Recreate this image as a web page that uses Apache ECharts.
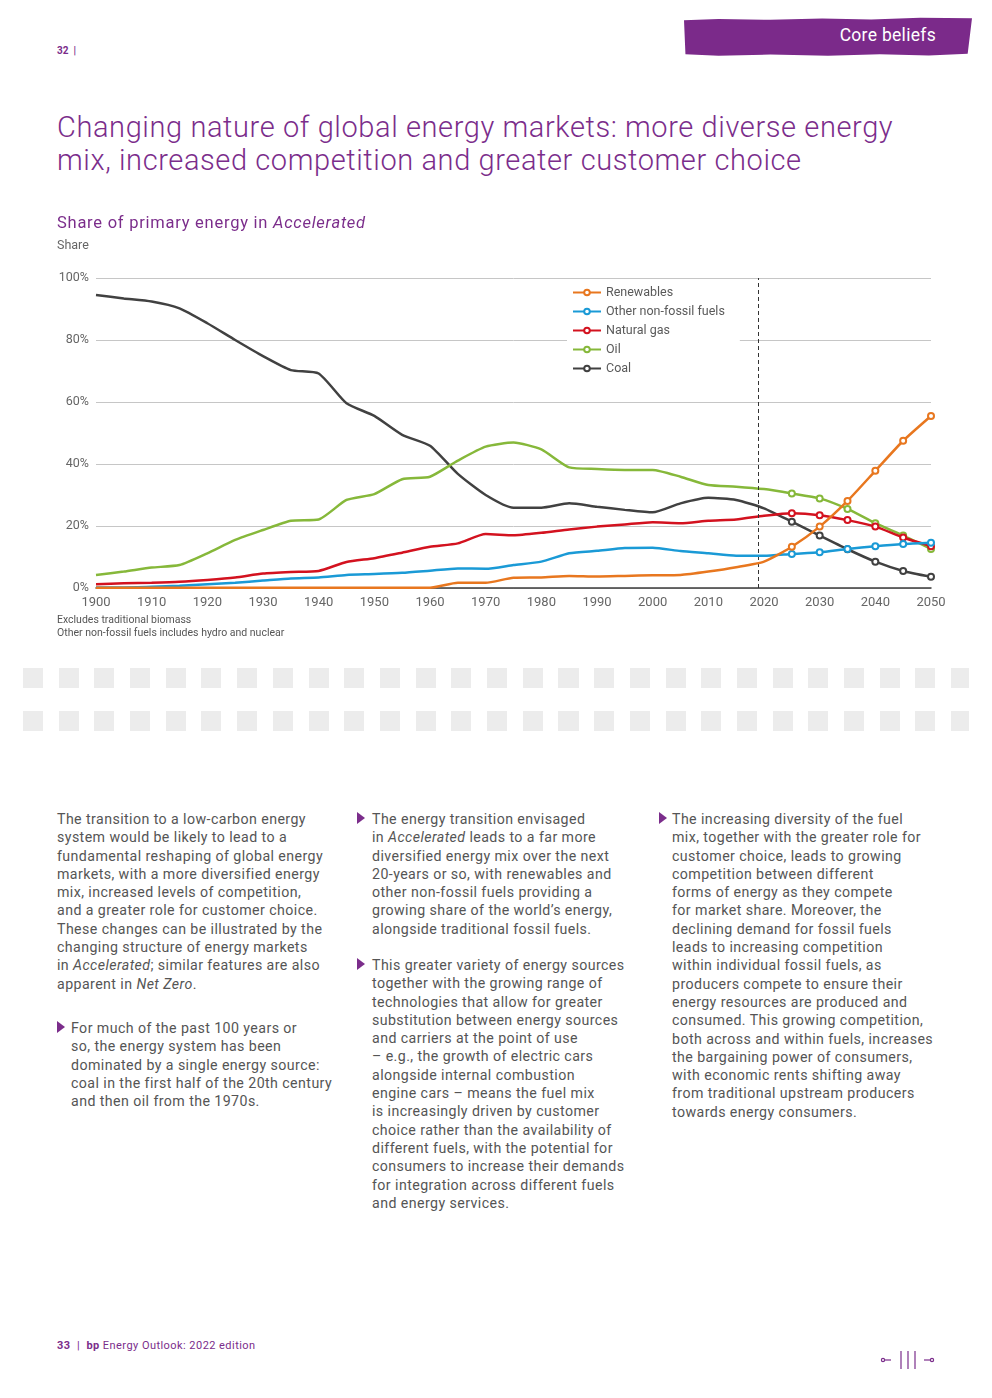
<!DOCTYPE html>
<html>
<head>
<meta charset="utf-8">
<script src="https://cdn.jsdelivr.net/npm/echarts@6/dist/echarts.min.js"></script>
<style>
  html,body{margin:0;padding:0;background:#fff;}
  body{width:992px;height:1398px;position:relative;overflow:hidden;font-family:Roboto,"Noto Sans",Arial,sans-serif;}
  .abs{position:absolute;}
  .purple{color:#7b2d8b;}
  #banner{left:684px;top:17px;width:288px;height:40px;background:#7b2a8a;
    clip-path:polygon(0% 8%,12% 5%,30% 7%,48% 4%,65% 6%,82% 2%,100% 3%,98.5% 92%,85% 96%,68% 93%,50% 97%,30% 94%,12% 97%,0.5% 93%);}
  #banner span{position:absolute;right:36px;top:8px;color:#fff;font-size:17.5px;letter-spacing:0.3px;}
  .title{left:57px;top:111px;font-size:29px;font-weight:300;line-height:33px;color:#7b2d8b;white-space:nowrap;letter-spacing:0.6px;}
  .sub{left:57px;top:213px;font-size:16.5px;color:#7b2d8b;white-space:nowrap;letter-spacing:0.75px;}
  .body{font-size:14.2px;line-height:18.3px;color:#555;white-space:nowrap;letter-spacing:0.42px;}
  .tri{position:absolute;width:0;height:0;border-top:6.5px solid transparent;border-bottom:6.5px solid transparent;border-left:8px solid #7b2d8b;}
  .dots{height:20px;background:repeating-linear-gradient(to right,#ececec 0 20px,transparent 20px 35.7px);}
  #chart{left:0;top:200px;width:992px;height:450px;}
</style>
</head>
<body>
<div class="abs purple" style="left:57px;top:45px;font-size:10px;font-weight:bold;">32&nbsp;&nbsp;|</div>
<div id="banner" class="abs"><span>Core beliefs</span></div>

<div class="abs title">Changing nature of global energy markets: more diverse energy<br>mix, increased competition and greater customer choice</div>

<div id="chart" class="abs"></div>
<div class="abs sub">Share of primary energy in <i>Accelerated</i></div>

<div class="abs dots" style="left:23px;top:668px;width:946px;"></div>
<div class="abs dots" style="left:23px;top:711px;width:946px;"></div>

<div class="abs body" style="left:57px;top:810px;">The transition to a low-carbon energy<br>system would be likely to lead to a<br>fundamental reshaping of global energy<br>markets, with a more diversified energy<br>mix, increased levels of competition,<br>and a greater role for customer choice.<br>These changes can be illustrated by the<br>changing structure of energy markets<br>in <i>Accelerated</i>; similar features are also<br>apparent in <i>Net Zero</i>.</div>

<div class="tri" style="left:57px;top:1021px;"></div>
<div class="abs body" style="left:71px;top:1019px;">For much of the past 100 years or<br>so, the energy system has been<br>dominated by a single energy source:<br>coal in the first half of the 20th century<br>and then oil from the 1970s.</div>

<div class="tri" style="left:357px;top:812px;"></div>
<div class="abs body" style="left:372px;top:810px;">The energy transition envisaged<br>in <i>Accelerated</i> leads to a far more<br>diversified energy mix over the next<br>20-years or so, with renewables and<br>other non-fossil fuels providing a<br>growing share of the world’s energy,<br>alongside traditional fossil fuels.</div>

<div class="tri" style="left:357px;top:958px;"></div>
<div class="abs body" style="left:372px;top:956px;">This greater variety of energy sources<br>together with the growing range of<br>technologies that allow for greater<br>substitution between energy sources<br>and carriers at the point of use<br>– e.g., the growth of electric cars<br>alongside internal combustion<br>engine cars – means the fuel mix<br>is increasingly driven by customer<br>choice rather than the availability of<br>different fuels, with the potential for<br>consumers to increase their demands<br>for integration across different fuels<br>and energy services.</div>

<div class="tri" style="left:659px;top:812px;"></div>
<div class="abs body" style="left:672px;top:810px;">The increasing diversity of the fuel<br>mix, together with the greater role for<br>customer choice, leads to growing<br>competition between different<br>forms of energy as they compete<br>for market share. Moreover, the<br>declining demand for fossil fuels<br>leads to increasing competition<br>within individual fossil fuels, as<br>producers compete to ensure their<br>energy resources are produced and<br>consumed. This growing competition,<br>both across and within fuels, increases<br>the bargaining power of consumers,<br>with economic rents shifting away<br>from traditional upstream producers<br>towards energy consumers.</div>

<div class="abs purple" style="left:57px;top:1339px;font-size:11px;letter-spacing:0.45px;white-space:nowrap;"><b>33</b>&nbsp;&nbsp;|&nbsp;&nbsp;<b>bp</b> Energy Outlook: 2022 edition</div>

<svg class="abs" style="left:879px;top:1349px;" width="60" height="22" viewBox="0 0 60 22">
  <g stroke="#7b2d8b" stroke-width="1.2" fill="none">
    <circle cx="4" cy="11" r="1.6"/>
    <line x1="5.6" y1="11" x2="12" y2="11"/>
    <line x1="22" y1="2" x2="22" y2="20"/>
    <line x1="29" y1="2" x2="29" y2="20"/>
    <line x1="36" y1="2" x2="36" y2="20"/>
    <line x1="45" y1="11" x2="51.4" y2="11"/>
    <circle cx="53" cy="11" r="1.6"/>
  </g>
</svg>

<script>
// ---- data ----
const years = [1900,1905,1910,1915,1920,1925,1930,1935,1940,1945,1950,1955,1960,1965,1970,1975,1980,1985,1990,1995,2000,2005,2010,2015,2020,2025,2030,2035,2040,2045,2050];
const coal = [94.5,93.4,92.4,90.2,85.4,80.0,74.8,70.3,69.2,59.6,55.5,49.4,45.9,36.8,30.0,25.9,25.9,27.3,26.2,25.2,24.4,27.3,29.1,28.4,25.7,21.4,16.9,12.5,8.5,5.5,3.6];
const oil = [4.2,5.3,6.6,7.4,11.2,15.5,18.7,21.7,22.1,28.4,30.3,35.1,35.9,41.1,45.6,46.9,44.7,38.9,38.4,38.1,38.1,35.9,33.2,32.7,31.9,30.5,28.9,25.5,20.9,16.9,12.6];
const naturalGas = [1.2,1.5,1.7,2.0,2.6,3.4,4.7,5.2,5.5,8.4,9.6,11.4,13.3,14.4,17.4,17.0,17.8,18.9,19.8,20.5,21.2,20.9,21.7,22.1,23.3,24.1,23.5,21.9,19.8,16.3,13.5];
const otherNonFossil = [0.2,0.2,0.4,0.7,1.2,1.7,2.4,3.1,3.4,4.2,4.5,4.9,5.6,6.3,6.2,7.4,8.5,11.2,12.0,12.9,13.0,11.9,11.2,10.4,10.4,11.0,11.5,12.6,13.5,14.2,14.6];
const renewables = [0.1,0.1,0.1,0.1,0.1,0.1,0.1,0.1,0.1,0.1,0.1,0.1,0.1,1.7,1.7,3.3,3.4,3.9,3.7,3.9,4.1,4.2,5.3,6.7,8.5,13.3,19.8,28.1,37.8,47.5,55.5];
const seriesNames = ['Renewables','Other non-fossil fuels','Natural gas','Oil','Coal'];
const yTicks = [0,20,40,60,80,100];
const markerFromYear = 2025;
const dividerYear = 2019;

// ---- chart ----
const colors = {'Renewables':'#e8771f','Other non-fossil fuels':'#1a9ad6','Natural gas':'#d3121f','Oil':'#86b83a','Coal':'#414141'};
const valuesByName = {'Renewables':renewables,'Other non-fossil fuels':otherNonFossil,'Natural gas':naturalGas,'Oil':oil,'Coal':coal};
const drawOrder = ['Coal','Oil','Natural gas','Other non-fossil fuels','Renewables'];

const series = drawOrder.map((name, k) => {
  const vals = valuesByName[name];
  const s = {
    name: name,
    type: 'line',
    smooth: 0.2,
    symbol: 'emptyCircle',
    symbolSize: 6,
    showSymbol: true,
    showAllSymbol: true,
    lineStyle: {width: 2.5, color: colors[name]},
    itemStyle: {color: colors[name], borderWidth: 1.6},
    emphasis: {disabled: true},
    z: 2 + k,
    data: years.map((y, i) => ({value: [y, vals[i]], symbol: y >= markerFromYear ? 'emptyCircle' : 'none'}))
  };
  if (k === 0) {
    s.markLine = {
      silent: true, symbol: ['none','none'], label: {show: false},
      lineStyle: {type: [4,3], color: '#333', width: 1},
      data: [{xAxis: dividerYear}]
    };
  }
  return s;
});

const chart = echarts.init(document.getElementById('chart'), null, {renderer: 'canvas'});
chart.setOption({
  animation: false,
  textStyle: {fontFamily: 'Roboto, "Noto Sans", Arial, sans-serif'},
  graphic: [
    {type: 'text', left: 57, top: 39, style: {text: 'Share', fontSize: 12.5, fill: '#666', fontFamily: 'Roboto'}},
    {type: 'text', left: 57, top: 415, style: {text: 'Excludes traditional biomass', fontSize: 10.5, fill: '#555', fontFamily: 'Roboto'}},
    {type: 'text', left: 57, top: 428, style: {text: 'Other non-fossil fuels includes hydro and nuclear', fontSize: 10.5, fill: '#555', fontFamily: 'Roboto'}}
  ],
  legend: {
    data: seriesNames,
    orient: 'vertical',
    left: 567, top: 83,
    backgroundColor: '#fff',
    padding: [3, 15, 3, 5],
    itemWidth: 28, itemHeight: 7, itemGap: 6,
    selectedMode: false,
    textStyle: {fontSize: 12.5, color: '#5a5a5a', fontFamily: 'Roboto'}
  },
  grid: {left: 96, right: 61, top: 78, bottom: 62},
  xAxis: {
    type: 'value', min: 1900, max: 2050, interval: 10,
    axisLine: {show: true, onZero: true, lineStyle: {color: '#3c3c3c', width: 1.5}},
    axisTick: {show: false},
    splitLine: {show: false},
    axisLabel: {color: '#666', fontSize: 13, margin: 8, formatter: v => String(v)}
  },
  yAxis: {
    type: 'value', min: yTicks[0], max: yTicks[yTicks.length-1], interval: 20,
    axisLine: {show: false}, axisTick: {show: false},
    splitLine: {lineStyle: {color: '#c6c6c6', width: 1}},
    axisLabel: {color: '#666', fontSize: 12.5, margin: 7, formatter: '{value}%'}
  },
  series: series
});
</script>
</body>
</html>
